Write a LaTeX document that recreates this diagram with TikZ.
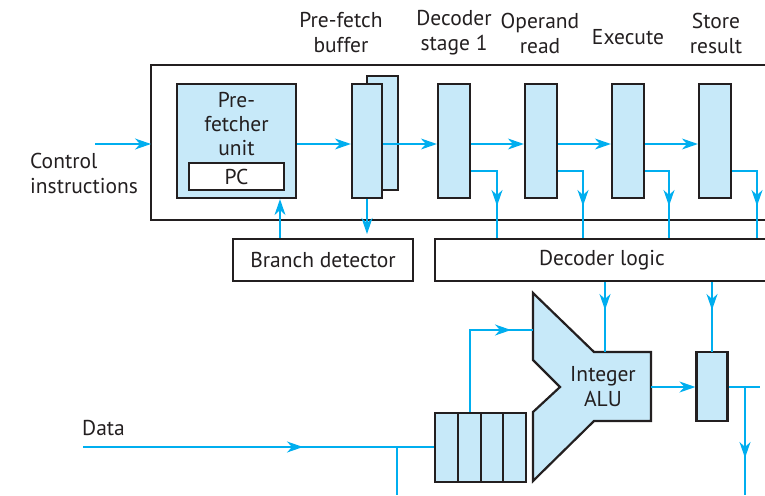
\documentclass[tikz,border=0pt]{standalone}
\usepackage{fontspec}
\setmainfont{PT Sans}
\usetikzlibrary{arrows.meta}
\definecolor{cy}{RGB}{0,174,239}
\definecolor{lb}{RGB}{199,233,249}
\definecolor{ink}{RGB}{35,31,32}
\begin{document}
\begin{tikzpicture}[x=1pt,y=-1pt,
 box/.style={draw=ink,line width=2.2pt,fill=lb,inner sep=0pt},
 wbox/.style={draw=ink,line width=2.2pt,fill=white,inner sep=0pt},
 wire/.style={draw=cy,line width=1.4pt},
 arr/.style={wire,-{Stealth[length=16pt,width=11pt,inset=5pt]}},
 lbl/.style={font=\fontsize{21.5}{25}\selectfont,align=center,inner sep=0pt,text=ink},
 stagebox/.style={box,minimum width=32pt,minimum height=114pt}]
\useasboundingbox (0,0) rectangle (765,495);

% outer frame
\draw[ink,line width=2.2pt] (790,65) -- (151,65) -- (151,220) -- (790,220);

% top labels
\node[lbl] at (341,33) {Pre-fetch\\buffer};
\node[lbl] at (454,33) {Decoder\\stage 1};
\node[lbl] at (540,33) {Operand\\read};
\node[lbl] at (628,37) {Execute};
\node[lbl] at (716,33) {Store\\result};

% prefetcher
\node[box,minimum width=119pt,minimum height=114pt] (pf) at (236.5,141) {};
\node[lbl,font=\fontsize{21.5}{24}\selectfont] (pft) at (236.5,124) {Pre-\\fetcher\\unit};
\node[wbox,minimum width=95pt,minimum height=27pt,lbl] (pc) at (236.5,176.5) {PC};

% pre-fetch buffer
\node[box,minimum width=31pt,minimum height=114pt] (bufb) at (382.5,133) {};
\node[box,minimum width=30pt,minimum height=114pt] (buf) at (367,141) {};

% stages
\node[stagebox] (s1) at (454,141) {};
\node[stagebox] (s2) at (541,141) {};
\node[stagebox] (s3) at (628,141) {};
\node[stagebox] (s4) at (715,141) {};

% lower boxes
\node[wbox,minimum width=180pt,minimum height=42pt,lbl] (bd) at (323,260) {Branch detector};
\node[wbox,minimum width=334pt,minimum height=42pt,lbl] (dl) at (602,260) {Decoder logic};

% ALU
\draw[ink,line width=2.2pt,fill=lb,line join=miter]
  (533,293) -- (594,352) -- (651,352) -- (651,421) -- (594,421) -- (533,481)
  -- (533,412) -- (560,387) -- (533,360) -- cycle;
\node[lbl] (alu) at (603,386.5) {Integer\\ALU};
\coordinate (aluin) at (533,330);
\coordinate (alutop) at (605,352);
\coordinate (aluout) at (651,387);

% result register
\node[box,minimum width=31pt,minimum height=69pt] (rr) at (712,386.5) {};
\coordinate (rrtop) at (712,352);

% register bank
\node[box,minimum width=23pt,minimum height=69pt] (r1) at (446.5,447.5) {};
\node[box,minimum width=23pt,minimum height=69pt] (r2) at (469.5,447.5) {};
\node[box,minimum width=22pt,minimum height=69pt] (r3) at (492,447.5) {};
\node[box,minimum width=23pt,minimum height=69pt] (r4) at (514.5,447.5) {};

% control instructions
\node[lbl,align=left,anchor=west] (ci) at (30,173) {Control\\instructions};
\coordinate (cistart) at (95,144);
\coordinate (framein) at (151,144);
\draw[arr] (cistart) -- (framein);

% main pipeline arrows
\draw[arr] (pf.east |- 0,144) -- (buf.west |- 0,144);
\draw[arr] (buf.east |- 0,144) -- (s1.west |- 0,144);
\draw[arr] (s1.east |- 0,144) -- (s2.west |- 0,144);
\draw[arr] (s2.east |- 0,144) -- (s3.west |- 0,144);
\draw[arr] (s3.east |- 0,144) -- (s4.west |- 0,144);

% branch detector links
\draw[arr] (bd.north -| 280,0) -- (pf.south -| 280,0);
\draw[arr] (buf.south) -- (367,234);

% stage to decoder logic
\foreach \s/\xx in {s1/497,s2/583,s3/669,s4/757}{
  \draw[wire] (\s.east |- 0,171) -| (\xx,203);
  \draw[arr] (\xx,185) -- (\xx,206);
  \draw[wire] (\xx,203) -- (dl.north -| \xx,0);
}

% decoder logic to ALU and result register
\draw[wire] (dl.south -| alutop) -- (alutop);
\draw[arr] (605,290) -- (605,310);
\draw[wire] (dl.south -| rrtop) -- (rrtop);
\draw[arr] (712,290) -- (712,310);

% ALU out
\draw[arr] (aluout) -- (rr.west |- aluout);
\coordinate (rrout) at (760,387);
\draw[wire] (rr.east |- rrout) -- (rrout);
\coordinate (down) at (745,495);
\draw[wire] (745,387) -- (down);
\draw[arr] (745,430) -- (745,458);

% register bank to ALU
\draw[wire] (r2.north -| 470,0) |- (aluin);
\draw[arr] (490,330) -- (511,330);

% data
\node[lbl,anchor=south west] (dt) at (82,436) {Data};
\coordinate (dstart) at (83,447);
\draw[wire] (dstart) -- (r1.west |- dstart);
\draw[arr] (280,447) -- (303,447);
\coordinate (ddown) at (397,495);
\draw[wire] (397,447) -- (ddown);
\end{tikzpicture}
\end{document}
